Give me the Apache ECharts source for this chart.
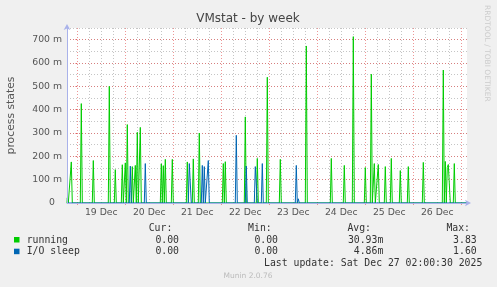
<!DOCTYPE html>
<html>
<head>
<meta charset="utf-8">
<script src="https://cdn.jsdelivr.net/npm/echarts@6/dist/echarts.min.js"></script>
<style>
html,body{margin:0;padding:0;background:#f0f0f0;}
#c{width:497px;height:287px;}
</style>
</head>
<body>
<div id="c"></div>
<script>
// ---- data (hours since 19 Dec 00:00, values in milli process states) ----
const runningHours = [-5, -3, 2, 8, 16, 19, 22.5, 24, 25, 27.5, 29, 30, 31.5, 42, 43, 44, 47.5, 55, 58, 61, 73, 74, 84, 90, 95, 101.5, 114.5, 127, 133.5, 138, 144, 147, 148.5, 150.5, 154, 157, 161.5, 165.5, 173, 183, 184, 185, 185.5, 186, 188.5];
const runningValues = [22, 176, 426, 182, 500, 143, 164, 172, 336, 156, 161, 303, 324, 168, 160, 187, 187, 176, 189, 300, 169, 177, 369, 191, 539, 187, 673, 191, 161, 713, 152, 552, 169, 165, 156, 191, 139, 156, 174, 570, 178, 152, 165, 169, 169];
const ioHours = [26.5, 34, 56, 56.5, 62.5, 63.5, 65.5, 79.5, 84.5, 89, 89.5, 92.5, 109.5, 110.5];
const ioValues = [158, 169, 169, 172, 161, 156, 182, 290, 158, 156, 156, 169, 161, 18];
const dayLabels = ['19 Dec', '20 Dec', '21 Dec', '22 Dec', '23 Dec', '24 Dec', '25 Dec', '26 Dec'];
const dayNoonHours = [12, 36, 60, 84, 108, 132, 156, 180];
const midnightHours = [0, 24, 48, 72, 96, 120, 144, 168, 192];
const sixHourHours = [6, 12, 18, 30, 36, 42, 54, 60, 66, 78, 84, 90, 102, 108, 114, 126, 132, 138, 150, 156, 162, 174, 180, 186];
const yTickValues = [0, 100, 200, 300, 400, 500, 600, 700];
const legendRows = [
  {name: 'running', color: '#00cc00', cur: '0.00', min: '0.00', avg: '30.93m', max: '3.83'},
  {name: 'I/O sleep', color: '#0066b3', cur: '0.00', min: '0.00', avg: '4.86m', max: '1.60'}
];

const X_MIN = -5.15, X_MAX = 194.85;

function spikes(hours, values) {
  // each sample is one 30-min slot; neighbours are zero
  const m = new Map();
  hours.forEach((h, i) => m.set(h, values[i]));
  hours.forEach(h => {
    [h - 0.5, h + 0.5].forEach(n => { if (!m.has(n)) m.set(n, 0); });
  });
  const keys = Array.from(m.keys()).sort((a, b) => a - b);
  const out = [[X_MIN, 0]];
  keys.forEach(k => out.push([k, m.get(k)]));
  out.push([X_MAX, 0]);
  return out;
}

const AXIS = '#a9b2ea';
const GRAY = 'rgba(150,150,150,0.55)';
const RED = 'rgba(225,80,80,0.6)';
const mono = '"DejaVu Sans Mono", monospace';
const sans = '"DejaVu Sans", sans-serif';

function baseX(extra) {
  return Object.assign({
    type: 'value', min: X_MIN, max: X_MAX, gridIndex: 0, position: 'bottom', offset: 0,
    axisLine: {show: false}, axisTick: {show: false}, axisLabel: {show: false},
    splitLine: {show: false}
  }, extra);
}
function baseY(extra) {
  return Object.assign({
    type: 'value', min: 0, max: 750, gridIndex: 0, position: 'left', offset: 0,
    axisLine: {show: false}, axisTick: {show: false}, axisLabel: {show: false},
    splitLine: {show: false}
  }, extra);
}

const chart = echarts.init(document.getElementById('c'), null, {renderer: 'canvas'});

const graphics = [
  {type: 'rect', z: -10, shape: {x: 67, y: 28, width: 400, height: 175}, style: {fill: '#ffffff'}},
  {type: 'text', style: {text: 'VMstat - by week', x: 248, y: 19, textAlign: 'center', textVerticalAlign: 'middle', font: '12px ' + sans, fill: '#444'}},
  {type: 'text', rotation: -Math.PI / 2, x: 487, y: 5, style: {text: 'RRDTOOL / TOBI OETIKER', x: 0, y: 0, textAlign: 'left', textVerticalAlign: 'middle', font: '7.5px ' + sans, fill: '#cccccc'}},
  {type: 'text', style: {text: 'Cur:', x: 172.3, y: 228, textAlign: 'right', textVerticalAlign: 'middle', font: '9.8px ' + mono, fill: '#333'}},
  {type: 'text', style: {text: 'Min:', x: 271.7, y: 228, textAlign: 'right', textVerticalAlign: 'middle', font: '9.8px ' + mono, fill: '#333'}},
  {type: 'text', style: {text: 'Avg:', x: 371, y: 228, textAlign: 'right', textVerticalAlign: 'middle', font: '9.8px ' + mono, fill: '#333'}},
  {type: 'text', style: {text: 'Max:', x: 470, y: 228, textAlign: 'right', textVerticalAlign: 'middle', font: '9.8px ' + mono, fill: '#333'}},
  {type: 'text', style: {text: 'Last update: Sat Dec 27 02:00:30 2025', x: 482.3, y: 263.3, textAlign: 'right', textVerticalAlign: 'middle', font: '9.8px ' + mono, fill: '#333'}},
  {type: 'text', style: {text: 'Munin 2.0.76', x: 248, y: 276, textAlign: 'center', textVerticalAlign: 'middle', font: '7.5px ' + sans, fill: '#bbbbbb'}}
];
legendRows.forEach((r, i) => {
  const y = 240 + i * 11.7;
  graphics.push({type: 'rect', shape: {x: 14, y: y - 3, width: 5.5, height: 5.5}, style: {fill: r.color}});
  graphics.push({type: 'text', style: {text: r.name, x: 26.7, y: y, textAlign: 'left', textVerticalAlign: 'middle', font: '9.8px ' + mono, fill: '#333'}});
  [[r.cur, 179], [r.min, 278], [r.avg, 383.3], [r.max, 476.7]].forEach(([t, x]) => {
    graphics.push({type: 'text', style: {text: t, x: x, y: y, textAlign: 'right', textVerticalAlign: 'middle', font: '9.8px ' + mono, fill: '#333'}});
  });
});

chart.setOption({
  animation: false,
  backgroundColor: '#f0f0f0',
  grid: {left: 67, top: 28, width: 400, height: 175, containLabel: false, outerBoundsMode: 'none'},
  xAxis: [
    baseX({axisTick: {show: false, customValues: sixHourHours},
           splitLine: {show: true, lineStyle: {color: GRAY, width: 1, type: [1, 2]}}}),
    baseX({axisTick: {show: true, customValues: midnightHours, length: 2, lineStyle: {color: RED}},
           splitLine: {show: true, lineStyle: {color: RED, width: 1, type: [1, 2]}}}),
    baseX({axisTick: {show: false, customValues: dayNoonHours},
           axisLabel: {show: true, customValues: dayNoonHours, margin: 5, color: '#555', fontFamily: 'DejaVu Sans', fontSize: 9.3,
             formatter: v => dayLabels[Math.round((v - 12) / 24)]}}),
    baseX({z: 5, axisLine: {show: true, onZero: false, symbol: ['none', 'arrow'], symbolSize: [5, 6], symbolOffset: [0, 4], lineStyle: {color: AXIS, width: 1}}})
  ],
  yAxis: [
    baseY({interval: 50, splitLine: {show: true, lineStyle: {color: GRAY, width: 1, type: [1, 2]}}}),
    baseY({axisTick: {show: true, customValues: yTickValues, length: 2, lineStyle: {color: RED}},
           splitLine: {show: true, lineStyle: {color: RED, width: 1, type: [1, 2]}},
           axisLabel: {show: true, customValues: yTickValues, margin: 5, color: '#555', fontFamily: 'DejaVu Sans', fontSize: 9.3,
             formatter: v => v === 0 ? '{z|0}' : v + ' m',
             rich: {z: {padding: [0, 7, 0, 0], color: '#555', fontFamily: 'DejaVu Sans', fontSize: 9.3}}},
           name: 'process states', nameLocation: 'middle', nameRotate: 90, nameGap: 50,
           nameTextStyle: {color: '#555', fontFamily: 'DejaVu Sans', fontSize: 10.8}}),
    baseY({z: 5, axisLine: {show: true, onZero: false, symbol: ['none', 'arrow'], symbolSize: [5, 6], symbolOffset: [0, 4], lineStyle: {color: AXIS, width: 1}}})
  ],
  series: [
    {type: 'line', name: 'running', xAxisIndex: 0, yAxisIndex: 0, showSymbol: false, symbol: 'none',
     lineStyle: {color: '#00cc00', width: 1}, data: spikes(runningHours, runningValues)},
    {type: 'line', name: 'I/O sleep', xAxisIndex: 0, yAxisIndex: 0, showSymbol: false, symbol: 'none',
     lineStyle: {color: '#0066b3', width: 1}, data: spikes(ioHours, ioValues)}
  ],
  graphic: graphics
});
</script>
</body>
</html>
